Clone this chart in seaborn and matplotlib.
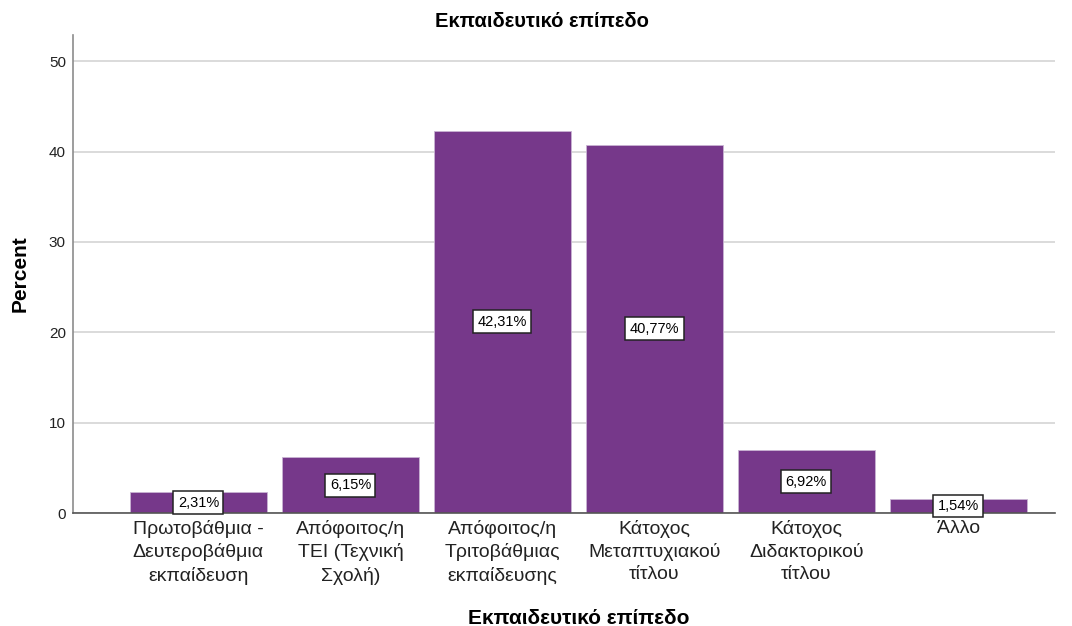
import matplotlib
matplotlib.use("Agg")
import matplotlib.pyplot as plt
import seaborn as sns
import pandas as pd

categories = [
    "Πρωτοβάθμια -\nΔευτεροβάθμια\nεκπαίδευση",
    "Απόφοιτος/η\nΤΕΙ (Τεχνική\nΣχολή)",
    "Απόφοιτος/η\nΤριτοβάθμιας\nεκπαίδευσης",
    "Κάτοχος\nΜεταπτυχιακού\nτίτλου",
    "Κάτοχος\nΔιδακτορικού\nτίτλου",
    "Άλλο",
]
percents = [2.31, 6.15, 42.31, 40.77, 6.92, 1.54]
value_labels = ["2,31%", "6,15%", "42,31%", "40,77%", "6,92%", "1,54%"]
y_ticks = [0, 10, 20, 30, 40, 50]

sns.set_theme(style="white")
plt.rcParams["font.family"] = ["Liberation Sans", "DejaVu Sans"]

df = pd.DataFrame({"category": categories, "percent": percents})

fig = plt.figure(figsize=(10.72, 6.26), dpi=100)
ax = fig.add_axes([0.068, 0.1805, 0.916, 0.7635])

ax.set_axisbelow(True)
ax.yaxis.grid(True, color="#d4d4d4", linewidth=1.2)
ax.xaxis.grid(False)

sns.barplot(data=df, x="category", y="percent", color="#76388a", saturation=1,
            width=0.9, edgecolor="#c9b4d3", linewidth=0.6, ax=ax)

for i, (v, lab) in enumerate(zip(percents, value_labels)):
    ax.text(i, v / 2, lab, ha="center", va="center", fontsize=10.5, color="black",
            bbox=dict(boxstyle="square,pad=0.3", facecolor="white",
                      edgecolor="#222222", linewidth=1.1))

ax.set_ylim(0, 52.9)
ax.set_xlim(-0.826, 5.635)
ax.set_yticks(y_ticks)
ax.tick_params(axis="y", labelsize=11, length=0, pad=5, colors="#222222")
ax.tick_params(axis="x", labelsize=14, length=0, pad=5, colors="#222222")
for t in ax.get_xticklabels():
    t.set_linespacing(1.38)

for side in ["top", "right"]:
    ax.spines[side].set_visible(False)
ax.spines["left"].set_color("#8c8c8c")
ax.spines["left"].set_linewidth(1.2)
ax.spines["bottom"].set_color("#555555")
ax.spines["bottom"].set_linewidth(1.2)

ax.set_title("Εκπαιδευτικό επίπεδο", fontsize=14.5, fontweight="bold", pad=6,
             color="black", x=0.478)
ax.set_xlabel("Εκπαιδευτικό επίπεδο", fontsize=15, fontweight="bold", labelpad=10,
              color="black")
ax.xaxis.set_label_coords(0.515, -0.2)
ax.set_ylabel("Percent", fontsize=15, fontweight="bold", labelpad=14, color="black")

fig.savefig("out.png", dpi=100)
